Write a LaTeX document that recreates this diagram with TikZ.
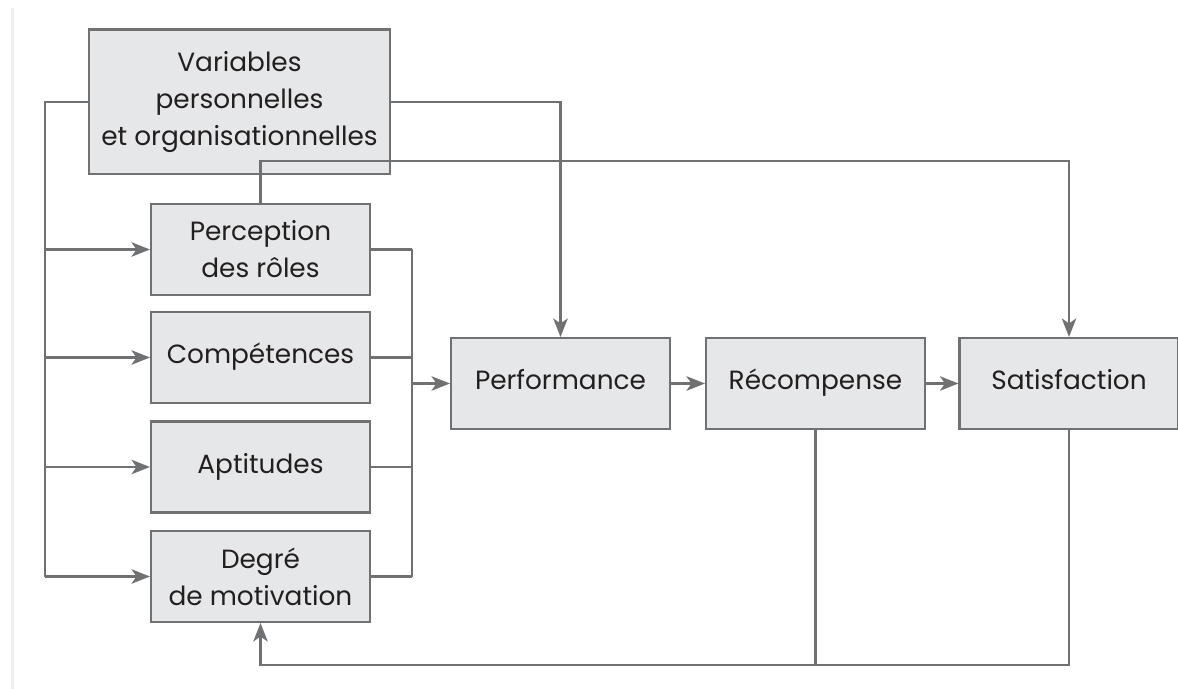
\documentclass[tikz,border=0pt]{standalone}
\usepackage{xcolor}
\usepackage{fontspec}
\setmainfont{Poppins}
\usepackage{tikz}
\usetikzlibrary{arrows.meta}
\definecolor{boxgray}{HTML}{E6E7E8}
\definecolor{linegray}{HTML}{707173}
\definecolor{textgray}{HTML}{231F20}
\definecolor{edgegray}{HTML}{EEEEEE}

\begin{document}
\begin{tikzpicture}[
  bloc/.style={draw=linegray, line width=1.2pt, fill=boxgray, text=textgray, align=center,
    minimum width=4.38cm, minimum height=1.82cm, inner sep=0pt, font=\fontsize{15}{21}\selectfont},
  seul/.style={bloc, text height=0.92em, text depth=0.2em},
  trait/.style={draw=linegray, line width=1.2pt},
  fleche/.style={trait, -{Stealth[length=0.37cm,width=0.29cm,inset=0.1cm]}}]
\useasboundingbox (0,0) rectangle (23.56,-13.78);
\fill[edgegray] (0.22,-0.16) rectangle (0.28,-13.78);

\node[bloc, minimum width=6.02cm, minimum height=2.89cm] (var) at (4.79,-2.035) {Variables\\personnelles\\et organisationnelles};
\node[bloc] (perc) at (5.21,-4.99) {Perception\\des rôles};
\node[seul] (comp) at (5.21,-7.15) {Compétences};
\node[seul] (apt) at (5.21,-9.34) {Aptitudes};
\node[bloc] (deg) at (5.21,-11.53) {Degré\\de motivation};
\node[seul] (perf) at (11.21,-7.67) {Performance};
\node[seul] (rec) at (16.31,-7.67) {Récompense};
\node[seul] (sat) at (21.38,-7.67) {Satisfaction};

\coordinate (bus) at (0.9,0);
\coordinate (col) at (8.24,0);
\coordinate (haut) at (0,-3.214);
\coordinate (bas) at (0,-13.3);

% entrees a gauche
\draw[trait] (var.west) -| (bus |- deg.west);
\foreach \n in {perc,comp,apt,deg}
  \draw[fleche] (bus |- \n.west) -- (\n.west);

% vers la performance
\foreach \n in {perc,comp,apt,deg}
  \draw[trait] (\n.east) -- (col |- \n.east);
\draw[trait] (col |- perc.east) -- (col |- deg.east);
\draw[fleche] (col |- perf.west) -- (perf.west);
\draw[fleche] (var.east) -| (perf.north);
\draw[fleche] (perc.north) -- (perc.north |- haut) -| (sat.north);

\draw[fleche] (perf) -- (rec);
\draw[fleche] (rec) -- (sat);

% retour
\draw[fleche] (sat.south) -- (sat.south |- bas) -| (deg.south);
\draw[trait] (rec.south) -- (rec.south |- bas);
\end{tikzpicture}
\end{document}
